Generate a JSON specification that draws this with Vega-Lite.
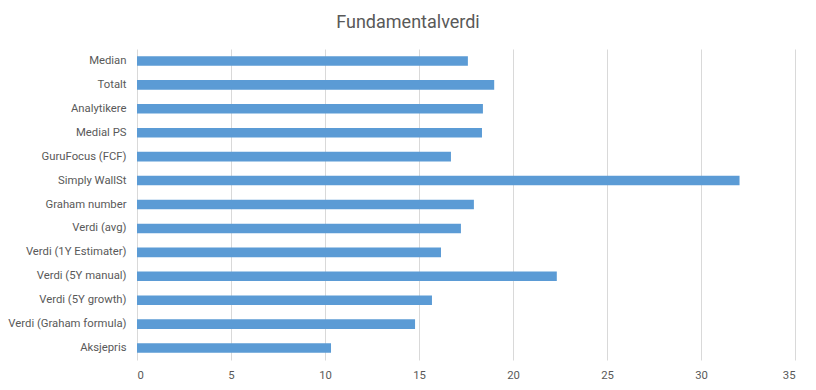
{
  "$schema": "https://vega.github.io/schema/vega-lite/v6.json",
  "autosize": "none",
  "width": 658,
  "height": 311,
  "padding": {"left": 137, "top": 49, "right": 21, "bottom": 30},
  "background": "white",
  "title": {
    "text": "Fundamentalverdi",
    "anchor": "middle",
    "frame": "group",
    "offset": 17,
    "dx": -58,
    "fontSize": 18,
    "font": "Roboto",
    "fontWeight": "normal",
    "color": "#595959"
  },
  "data": {
    "values": [
      {"kategori": "Median", "verdi": 17.6},
      {"kategori": "Totalt", "verdi": 19.0},
      {"kategori": "Analytikere", "verdi": 18.4},
      {"kategori": "Medial PS", "verdi": 18.35},
      {"kategori": "GuruFocus (FCF)", "verdi": 16.7},
      {"kategori": "Simply WallSt", "verdi": 32.05},
      {"kategori": "Graham number", "verdi": 17.92},
      {"kategori": "Verdi (avg)", "verdi": 17.23},
      {"kategori": "Verdi (1Y Estimater)", "verdi": 16.17},
      {"kategori": "Verdi (5Y manual)", "verdi": 22.33},
      {"kategori": "Verdi (5Y growth)", "verdi": 15.69},
      {"kategori": "Verdi (Graham formula)", "verdi": 14.79},
      {"kategori": "Aksjepris", "verdi": 10.32}
    ]
  },
  "mark": {"type": "bar", "color": "#5B9BD5"},
  "encoding": {
    "y": {
      "field": "kategori",
      "type": "nominal",
      "sort": null,
      "scale": {"paddingInner": 0.6, "paddingOuter": 0.3},
      "axis": {
        "title": null,
        "ticks": false,
        "domain": false,
        "grid": false,
        "labelPadding": 11,
        "labelFont": "Roboto",
        "labelFontSize": 11.3,
        "labelColor": "#595959"
      }
    },
    "x": {
      "field": "verdi",
      "type": "quantitative",
      "scale": {"domain": [0, 35], "nice": false},
      "axis": {
        "title": null,
        "values": [0, 5, 10, 15, 20, 25, 30, 35],
        "ticks": false,
        "domain": false,
        "grid": true,
        "gridColor": "#d9d9d9",
        "labelPadding": 9,
        "labelFont": "Roboto",
        "labelFontSize": 11.3,
        "labelColor": "#595959"
      }
    }
  },
  "config": {"view": {"stroke": null}}
}
